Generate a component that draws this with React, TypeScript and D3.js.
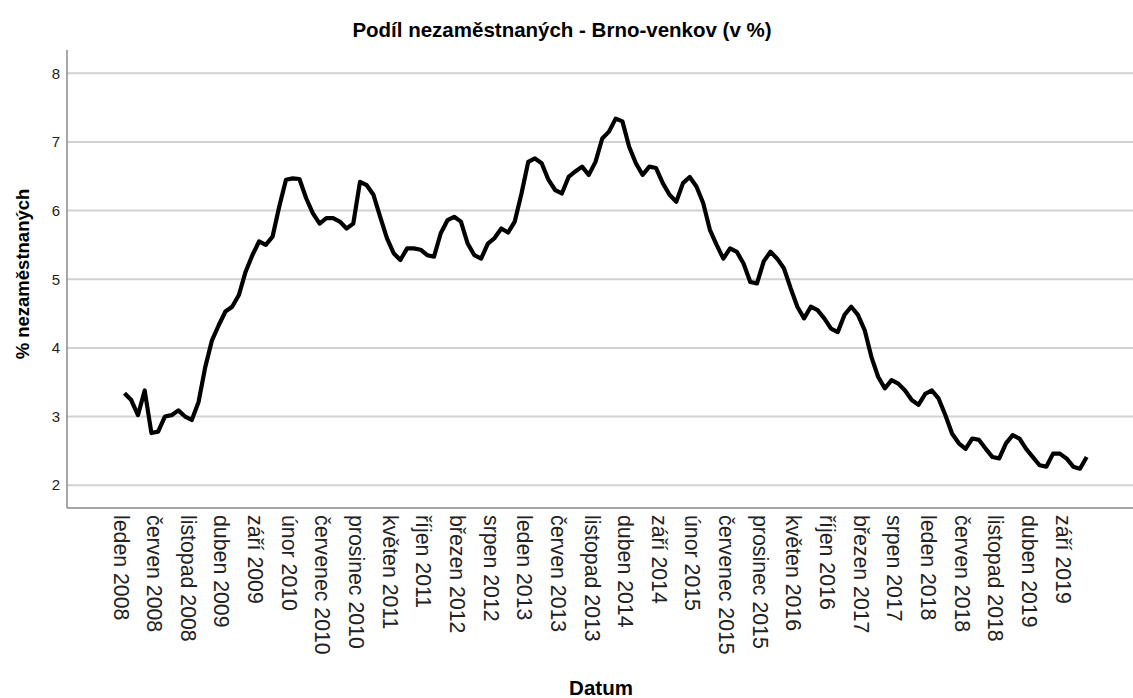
import * as d3 from 'd3';

const monthNames = ['leden', 'únor', 'březen', 'duben', 'květen', 'červen', 'červenec', 'srpen', 'září', 'říjen', 'listopad', 'prosinec'];
const years = [2008, 2009, 2010, 2011, 2012, 2013, 2014, 2015, 2016, 2017, 2018, 2019];

// monthly share of unemployed, Jan 2008 .. Dec 2019
const values = [
  3.34, 3.24, 3.02, 3.38, 2.76, 2.78, 3.0, 3.02, 3.09, 3.0, 2.95, 3.21,
  3.72, 4.11, 4.33, 4.53, 4.6, 4.77, 5.11, 5.35, 5.55, 5.5, 5.62, 6.06,
  6.45, 6.47, 6.46, 6.18, 5.96, 5.81, 5.89, 5.89, 5.84, 5.74, 5.81, 6.42,
  6.37, 6.23, 5.91, 5.6, 5.38, 5.28, 5.45, 5.45, 5.43, 5.35, 5.33, 5.67,
  5.86, 5.91, 5.84, 5.52, 5.35, 5.3, 5.52, 5.6, 5.74, 5.68, 5.84, 6.25,
  6.71, 6.76, 6.69, 6.45, 6.3, 6.25, 6.49, 6.57, 6.64, 6.52, 6.71, 7.05,
  7.15, 7.34, 7.3, 6.93, 6.69, 6.52, 6.64, 6.62, 6.4, 6.23, 6.13, 6.4,
  6.49, 6.35, 6.11, 5.72, 5.5, 5.3, 5.45, 5.4, 5.23, 4.96, 4.94, 5.26,
  5.4, 5.3, 5.16, 4.87, 4.6, 4.43, 4.6, 4.55, 4.43, 4.28, 4.23, 4.48,
  4.6, 4.48, 4.26, 3.87, 3.58, 3.41, 3.53, 3.48, 3.38, 3.24, 3.17, 3.33,
  3.38, 3.26, 3.02, 2.75, 2.61, 2.53, 2.68, 2.66, 2.53, 2.41, 2.39, 2.61,
  2.73, 2.68, 2.53, 2.41, 2.29, 2.27, 2.46, 2.46, 2.39, 2.27, 2.24, 2.41,
];

const yTicks = [2, 3, 4, 5, 6, 7, 8];
const labelEvery = 5;

const categories = years.flatMap((yr) => monthNames.map((m) => `${m} ${yr}`));

const font = '"Liberation Sans", Arial, sans-serif';

const App = () => {
  const width = 1133;
  const height = 698;
  const plot = { left: 67, right: 1133, top: 50, bottom: 508 };

  const x = d3
    .scalePoint<string>()
    .domain(categories)
    .range([124.5, 1086.7]);

  const y = d3.scaleLinear().domain([2, 8]).range([485.2, 73.3]);

  const line = d3
    .line<number>()
    .x((_, i) => x(categories[i]) as number)
    .y((d) => y(d));

  const tickCats = categories.filter((_, i) => i % labelEvery === 0);

  return (
    <svg
      width={width}
      height={height}
      style={{ position: 'absolute', left: 0, top: 0, background: '#fff' }}
      fontFamily={font}
    >
      <rect width={width} height={height} fill='#fff' />

      {/* gridlines */}
      {yTicks.map((t) => (
        <line
          key={t}
          x1={plot.left}
          x2={plot.right}
          y1={y(t)}
          y2={y(t)}
          stroke='#d2d2d2'
          strokeWidth={2}
        />
      ))}

      {/* axes */}
      <line x1={plot.left} x2={plot.left} y1={plot.top} y2={plot.bottom} stroke='#8a8a8a' strokeWidth={1.5} />
      <line x1={plot.left} x2={plot.right} y1={plot.bottom} y2={plot.bottom} stroke='#8a8a8a' strokeWidth={1.5} />

      {yTicks.map((t) => (
        <text key={t} x={60} y={y(t)} dy='0.35em' textAnchor='end' fontSize={15} fill='#222'>
          {t}
        </text>
      ))}

      {tickCats.map((c) => (
        <text
          key={c}
          transform={`translate(${(x(c) as number) - 4},515) rotate(90)`}
          dominantBaseline='central'
          textAnchor='start'
          fontSize={21.3}
          fill='#222'
        >
          {c}
        </text>
      ))}

      <path d={line(values) || ''} fill='none' stroke='#000' strokeWidth={4.2} strokeLinejoin='round' />

      <text x={562} y={37} textAnchor='middle' fontSize={20.5} fontWeight='bold' fill='#000'>
        Podíl nezaměstnaných - Brno-venkov (v %)
      </text>
      <text x={601} y={695} textAnchor='middle' fontSize={20.5} fontWeight='bold' fill='#000'>
        Datum
      </text>
      <text
        transform='translate(29,274) rotate(-90)'
        textAnchor='middle'
        fontSize={18.5}
        fontWeight='bold'
        fill='#000'
      >
        % nezaměstnaných
      </text>
    </svg>
  );
};

export default App;
